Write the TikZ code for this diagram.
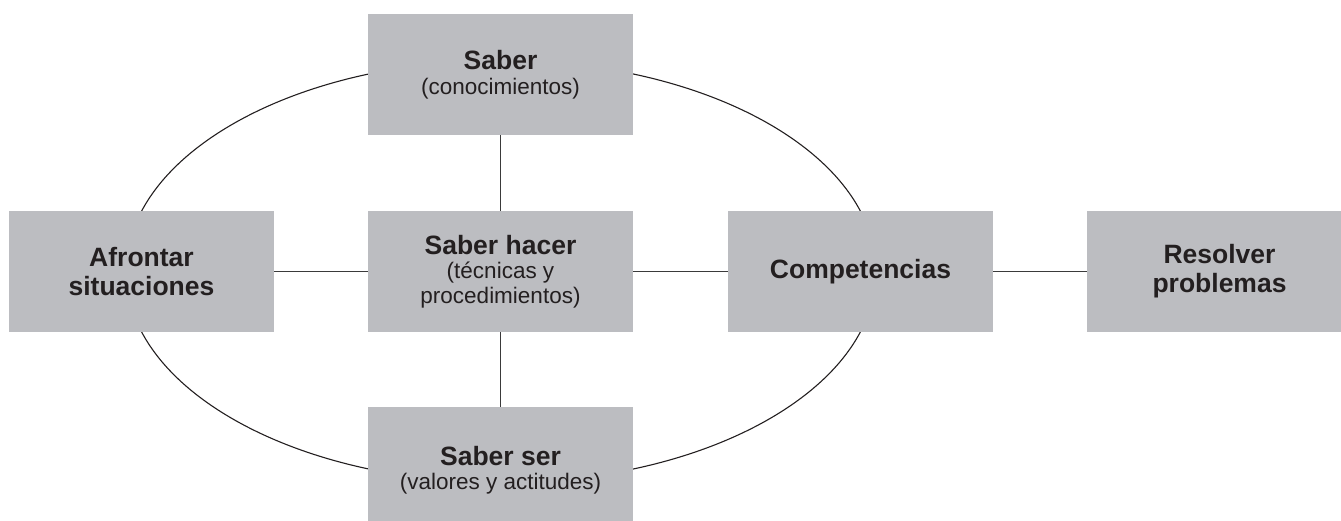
\documentclass[tikz,border=0pt]{standalone}
\usepackage{fontspec}
\setmainfont{Liberation Sans}
\definecolor{boxgray}{HTML}{BCBDC1}
\definecolor{txt}{HTML}{231F20}
\definecolor{linec}{HTML}{3A3A3A}
\newcommand{\bigb}{\fontsize{26.5}{29}\selectfont\bfseries}
\newcommand{\smr}{\fontsize{22.5}{24.5}\selectfont}
\tikzset{
  box/.style={fill=boxgray, minimum width=265pt, minimum height=121pt, inner sep=0pt, align=center, text=txt, font=\fontsize{22.5}{24.5}\selectfont},
  conn/.style={draw=linec, line width=1.4pt},
  ring/.style={draw=txt, line width=1.1pt}
}
\begin{document}
\begin{tikzpicture}[x=1pt,y=-1pt]
\useasboundingbox (0,0) rectangle (1341,521);
\coordinate (ec) at (501,271.5);
\draw[ring] (ec) ellipse [x radius=375, y radius=211];
\node[box] (saber) at (500.5,74.5) {{\bigb Saber}\\{\smr (conocimientos)}};
\node[box] (afrontar) at (141.5,271.5) {{\bigb Afrontar}\\[4.5pt]{\bigb situaciones}};
\node[box] (hacer) at (500.5,271.5) {{\bigb Saber hacer}\\{\smr (técnicas y}\\{\smr procedimientos)}};
\node[box] (comp) at (860.5,271.5) {{\bigb Competencias}};
\node[box] (resolver) at (1219.5,271.5) {{\bigb Resolver}\\[4.5pt]{\bigb problemas}};
\node[box, minimum height=126pt] (ser) at (500.5,470) {{\bigb Saber ser}\\{\smr (valores y actitudes)}};
\draw[conn] (saber) -- (hacer);
\draw[conn] (hacer) -- (ser);
\draw[conn] (afrontar) -- (hacer);
\draw[conn] (hacer) -- (comp);
\draw[conn] (comp) -- (resolver);
\end{tikzpicture}
\end{document}
